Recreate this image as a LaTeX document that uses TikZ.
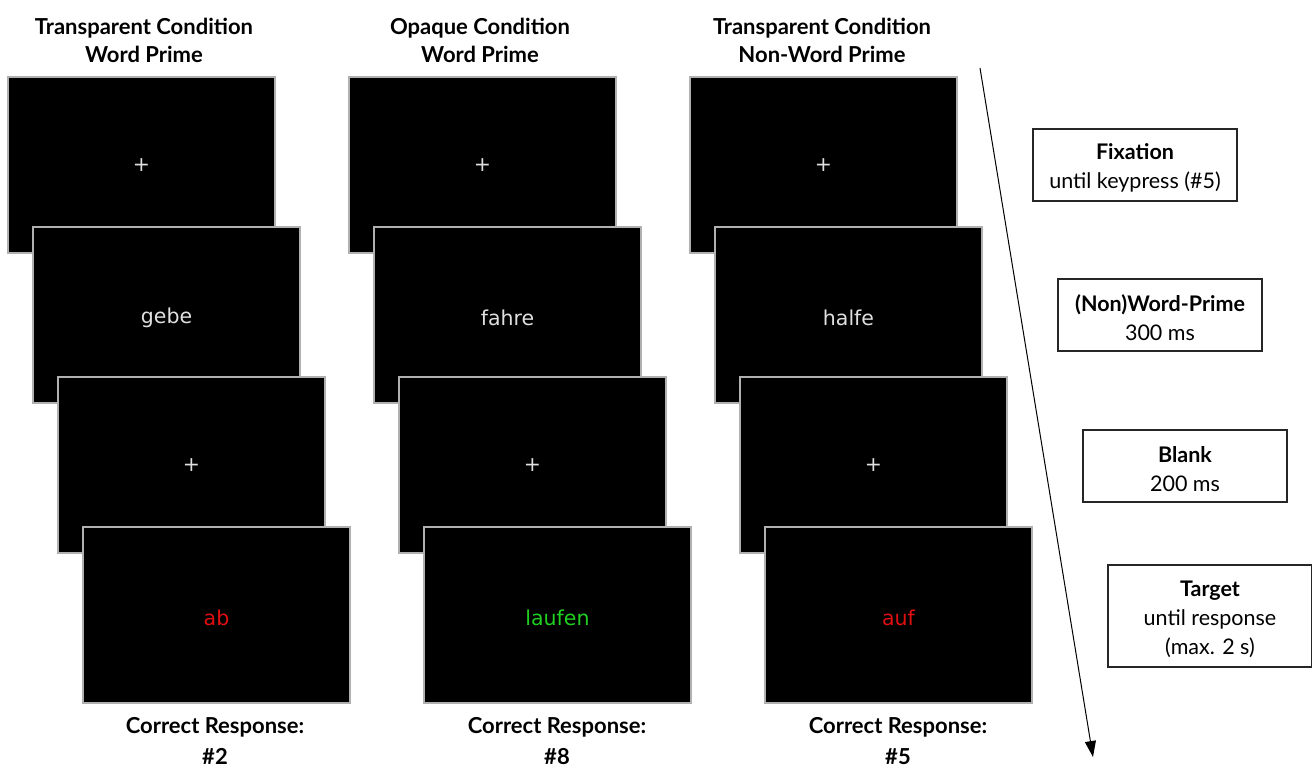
\documentclass[tikz,border=0pt]{standalone}
\usepackage{fontspec}
\setmainfont{Lato}
\newfontfamily\scrfont{DejaVu Sans}
\usetikzlibrary{arrows.meta}
\definecolor{scrgray}{HTML}{B0B0B0}
\definecolor{scrtext}{HTML}{E0E0E0}
\definecolor{tred}{HTML}{E01010}
\definecolor{tgreen}{HTML}{20D020}
\newcommand{\scrtxt}[1]{\raisebox{-3pt}[\height][\depth]{#1}}
\tikzset{
  screen/.style={draw=scrgray, line width=1.2pt, fill=black, minimum width=267pt, minimum height=176pt, inner sep=0pt, text=scrtext, font=\scrfont\fontsize{20.5}{24}\selectfont},
  hdr/.style={align=center, font=\bfseries\fontsize{22}{28}\selectfont, inner sep=0pt},
  resp/.style={align=center, font=\bfseries\fontsize{22}{31}\selectfont, inner sep=0pt},
  infobox/.style={draw=black!85, line width=1.5pt, minimum width=204pt, inner sep=0pt},
  infotext/.style={align=center, inner sep=0pt, font=\fontsize{21.5}{29}\selectfont},
}
\begin{document}
\begin{tikzpicture}[x=1pt,y=-1pt]
\useasboundingbox (0,0) rectangle (1312,770);
% headers
\node[hdr] (h1) at (144,40) {Transparent Condition\\Word Prime};
\node[hdr] (h2) at (480,40) {Opaque Condition\\Word Prime};
\node[hdr] (h3) at (822,40) {Transparent Condition\\Non-Word Prime};
% column 1
\node[screen] (a1) at (141.5,165) {+};
\node[screen] (a2) at (166.5,315) {\scrtxt{gebe}};
\node[screen] (a3) at (191.5,465) {+};
\node[screen, text=tred] (a4) at (216.5,615) {\scrtxt{ab}};
% column 2
\node[screen] (b1) at (482.5,165) {+};
\node[screen] (b2) at (507.5,315) {\scrtxt{fahre}};
\node[screen] (b3) at (532.5,465) {+};
\node[screen, text=tgreen] (b4) at (557.5,615) {\scrtxt{laufen}};
% column 3
\node[screen] (c1) at (823.5,165) {+};
\node[screen] (c2) at (848.5,315) {\scrtxt{halfe}};
\node[screen] (c3) at (873.5,465) {+};
\node[screen, text=tred] (c4) at (898.5,615) {\scrtxt{auf}};
% bottom labels
\node[resp] (r1) at (215,741) {Correct Response:\\\#2};
\node[resp] (r2) at (557,741) {Correct Response:\\\#8};
\node[resp] (r3) at (898,741) {Correct Response:\\\#5};
% time arrow
\coordinate (ts) at (980,68);
\coordinate (te) at (1093,757);
\draw[line width=1pt, -{Triangle[length=16pt,width=11pt]}] (ts) -- (te);
% info boxes
\node[infobox, minimum height=72pt] (f) at (1135,165) {};
\node[infotext] (ft) at (1135,168) {\textbf{Fixation}\\until keypress (\#5)};
\node[infobox, minimum height=72pt] (p) at (1160,315) {};
\node[infotext] (pt) at (1160,318) {\textbf{(Non)Word-Prime}\\300 ms};
\node[infobox, minimum height=72pt] (bl) at (1185,466) {};
\node[infotext] (blt) at (1185,469) {\textbf{Blank}\\200 ms};
\node[infobox, minimum height=102pt] (t) at (1210,616) {};
\node[infotext] (tt) at (1210,619) {\textbf{Target}\\until response\\(max. 2 s)};
\end{tikzpicture}
\end{document}
